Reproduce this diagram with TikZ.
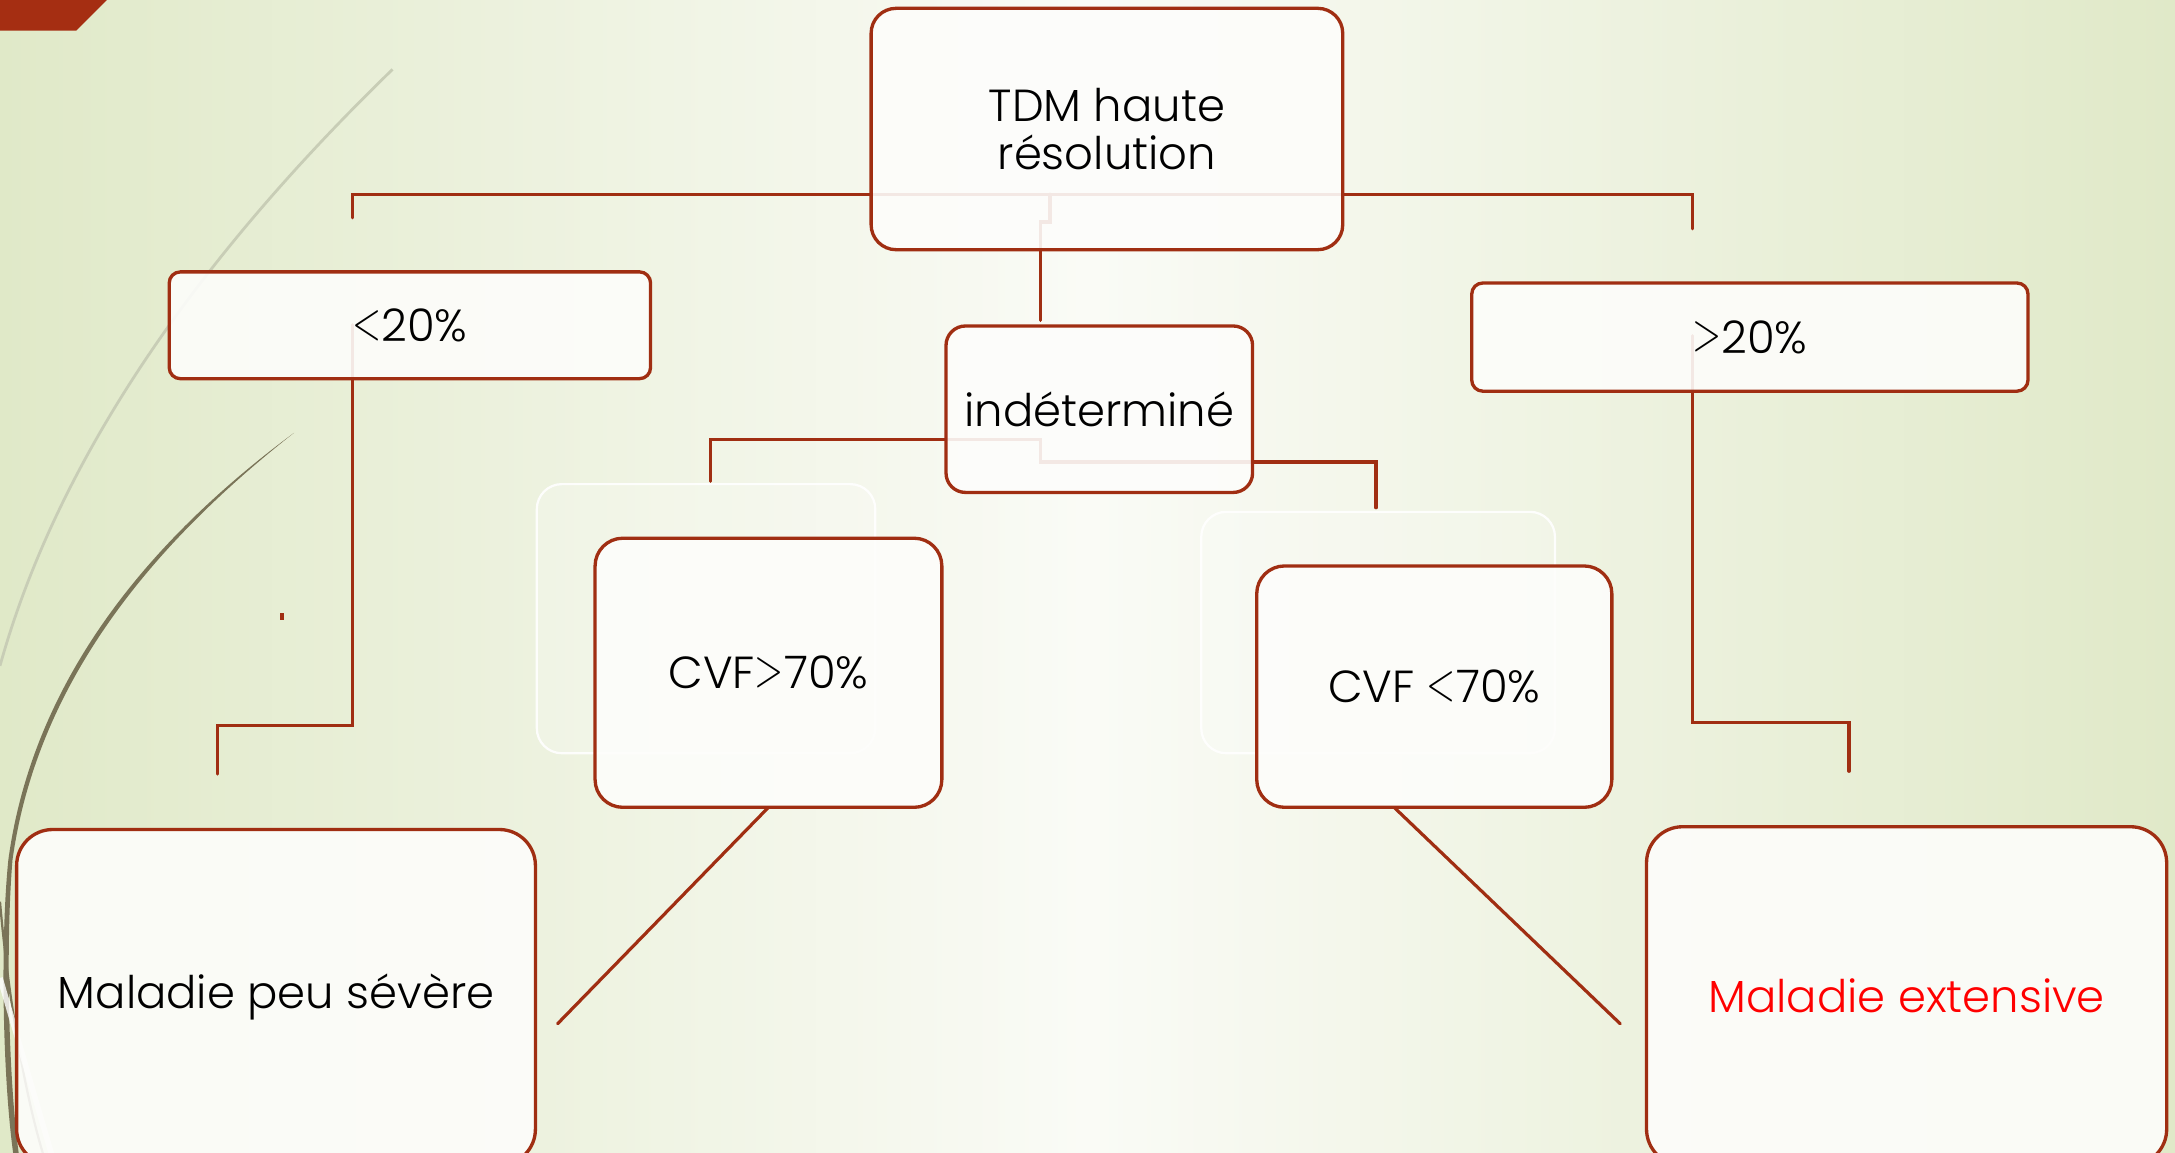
\documentclass[tikz,border=0pt]{standalone}
\usepackage{fontspec}
\setmainfont{Poppins}[UprightFont=* Light]
\newfontfamily\lmfont{Latin Modern Roman}
\usetikzlibrary{calc}
\definecolor{brn}{RGB}{160,46,18}
\definecolor{tlred}{RGB}{165,46,18}
\definecolor{olivec}{RGB}{122,116,88}
\definecolor{lightc}{RGB}{200,205,182}
\definecolor{bgg}{RGB}{224,233,200}
\definecolor{bgw}{RGB}{250,251,246}
\definecolor{boxfill}{RGB}{253,253,251}
\definecolor{redtxt}{RGB}{255,0,0}
\pgfdeclarelayer{back}
\pgfdeclarelayer{lines}
\pgfsetlayers{back,lines,main}
\newcommand{\lt}{\raisebox{0.05em}{\scalebox{0.85}[1.22]{\lmfont <}}}
\newcommand{\gt}{\raisebox{0.05em}{\scalebox{0.85}[1.22]{\lmfont >}}}
\tikzset{
  box/.style={draw=brn, line width=2.4pt, fill=boxfill, fill opacity=0.9, text opacity=1,
    inner sep=0pt, outer sep=0pt, font=\fontsize{32.4}{34}\selectfont, align=center},
  ghost/.style={draw=white, line width=1.6pt, fill=white, fill opacity=0.2, draw opacity=0.9, rounded corners=18pt},
  conn/.style={draw=brn, line width=2.3pt, line cap=round},
}
\begin{document}
\begin{tikzpicture}[x=1pt,y=-1pt]
\useasboundingbox (0,0) rectangle (1568,831);
\clip (0,0) rectangle (1568,831);

% boxes
\node[box, minimum width=340pt, minimum height=174pt, rounded corners=18pt] (tdm) at (798,93) {TDM haute\\résolution};
\node[box, minimum width=347pt, minimum height=77pt, rounded corners=8pt] (lt20) at (295.5,234.5) {\lt20\%};
\node[box, minimum width=221pt, minimum height=120pt, rounded corners=14pt] (indet) at (792.5,295) {indéterminé};
\node[box, minimum width=401pt, minimum height=78pt, rounded corners=8pt] (gt20) at (1261.5,243) {\gt20\%};
\node[box, minimum width=250pt, minimum height=194pt, rounded corners=20pt] (cvf1) at (554,485) {CVF\gt70\%};
\node[box, minimum width=256pt, minimum height=174pt, rounded corners=20pt] (cvf2) at (1034,495) {CVF \lt70\%};
\node[box, minimum width=374pt, minimum height=242pt, rounded corners=26pt] (mal1) at (199,719) {Maladie peu sévère};
\node[box, minimum width=375pt, minimum height=244pt, rounded corners=26pt, text=redtxt] (mal2) at (1374.5,718) {Maladie extensive};

\begin{pgfonlayer}{back}
  \shade[left color=bgg, right color=bgg, middle color=bgw] (0,0) rectangle (1568,831);
  \fill[tlred] (0,0) -- (77,0) -- (55,22) -- (0,22) -- cycle;
  % decorative curves
  \draw[lightc, line width=2pt] (283,50) .. controls (180,150) and (50,300) .. (0,480);
  \fill[olivec] (212,312) .. controls (120,380) and (25,480) .. (6,620)
        .. controls (0,680) and (2,780) .. (10,835)
        -- (14,835) .. controls (6,780) and (4,680) .. (9,620)
        .. controls (28,482) and (123,382) .. (212,312) -- cycle;
  \draw[olivec, line width=1.6pt] (0,650) .. controls (6,720) and (18,790) .. (32,835);
  \draw[white, opacity=0.8, line width=4pt] (0,705) -- (38,835);
  \fill[brn] (202,442) rectangle (204.5,447);
\end{pgfonlayer}

\begin{pgfonlayer}{lines}
  \coordinate (lEnd1) at (254,157);
  \coordinate (rTop) at (1220,140);
  \coordinate (rEnd1) at (1220,165);
  \draw[conn] (lEnd1) |- (rTop) -- (rEnd1);
  \coordinate (t1) at (757,140);
  \coordinate (indTop) at (750,231);
  \draw[conn] (t1) -- ++(0,20) -- ++(-7,0) -- (indTop);
  \coordinate (a1) at (254,234);
  \coordinate (aEnd) at (157,558);
  \draw[conn] (a1) -- (254,523) -| (aEnd);
  \coordinate (b1) at (1220,242);
  \coordinate (bEnd) at (1333,556);
  \draw[conn] (b1) -- (1220,521) -| (bEnd);
  \coordinate (c1) at (512,347);
  \coordinate (cEnd) at (992,366);
  \draw[conn] (c1) |- (750,317) -- (750,333) -| (cEnd);
  \coordinate (d1) at (402,738);
  \draw[conn] (cvf1.south) -- (d1);
  \coordinate (e1) at (1168,738);
  \draw[conn] ($(cvf2.south)+(-29,0)$) -- (e1);
  \draw[ghost] (387,349) rectangle (631,543);
  \draw[ghost] (866,369) rectangle (1121,543);
\end{pgfonlayer}
\end{tikzpicture}
\end{document}
